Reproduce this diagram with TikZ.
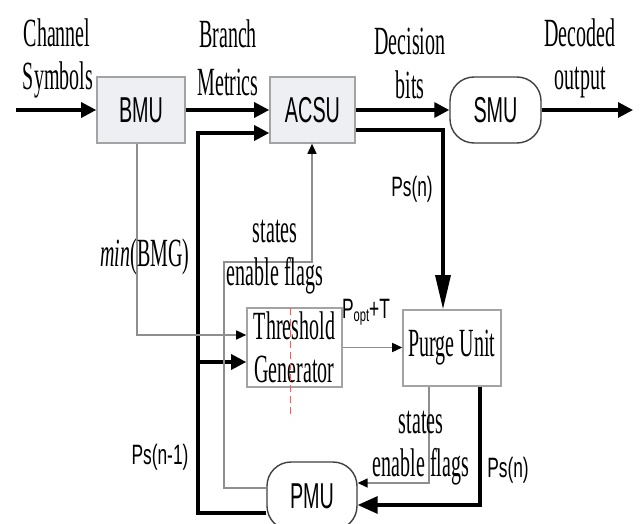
\documentclass[tikz,border=0pt]{standalone}
\usepackage{fontspec}
\usetikzlibrary{arrows.meta,calc}
\newfontfamily\labserif[FakeStretch=0.5]{Liberation Serif}
\newfontfamily\labsans[FakeStretch=0.55]{Liberation Sans}
\newfontfamily\labsansw[FakeStretch=0.62]{Liberation Sans}
\definecolor{boxfill}{HTML}{EDEFF3}
\definecolor{boxline}{HTML}{A3A3A3}
\definecolor{thinline}{HTML}{8E8E8E}
\definecolor{reddash}{HTML}{C87070}
\begin{document}
\begin{tikzpicture}[x=1pt,y=-1pt,
  sertxt/.style={font=\labserif\fontsize{40}{43}\selectfont, inner sep=0pt, anchor=base},
  pslab/.style={font=\labsansw\fontsize{28}{28}\selectfont, inner sep=0pt},
  unitbox/.style={draw=boxline, line width=1.6pt, fill=boxfill, inner sep=0pt,
    font=\labsans\fontsize{36}{36}\selectfont},
  plainbox/.style={draw=boxline, line width=1.6pt, fill=white, inner sep=0pt, align=center,
    font=\labserif\fontsize{40}{43}\selectfont},
  roundbox/.style={draw=black!75, line width=1.4pt, fill=white, rounded corners=24pt, inner sep=0pt,
    font=\labsans\fontsize{36}{36}\selectfont},
  thk/.style={line width=3.2pt, -{Triangle[length=15pt,width=15pt]}},
  thn/.style={draw=thinline, line width=1.5pt, -{Triangle[length=10pt,width=9pt,color=black]}}
]
\useasboundingbox (0,0) rectangle (640,524);
\fill[white] (0,0) rectangle (640,524);

% boxes
\node[unitbox, minimum width=88pt, minimum height=66pt] (bmu) at (141,110) {BMU};
\node[unitbox, minimum width=85pt, minimum height=66pt] (acsu) at (312.5,110) {ACSU};
\node[roundbox, minimum width=91pt, minimum height=66pt] (smu) at (495.5,110) {SMU};
\node[roundbox, minimum width=90pt, minimum height=68pt] (pmu) at (312,496) {PMU};
\node[plainbox, minimum width=95pt, minimum height=79pt] (thr) at (294.5,347.5) {Threshold\\Generator};
\node[plainbox, minimum width=98pt, minimum height=76pt] (purge) at (452,348) {Purge Unit};

% coordinates
\coordinate (in) at (16,110);
\coordinate (out) at (633,110);
\coordinate (psa) at (443,130);
\coordinate (fbtop) at (198,133);
\coordinate (fbbot) at (198,513);
\coordinate (br) at (198,362);
\coordinate (mb) at (137,335);
\coordinate (s1) at (224,488);
\coordinate (s2) at (224,262);
\coordinate (s3) at (312,262);
\coordinate (p1) at (429,483);
\coordinate (p2) at (480,505);
\coordinate (r1) at (290,308);
\coordinate (r2) at (290,418);

% main chain
\draw[thk] (in) -- (bmu.west);
\draw[thk] (bmu.east) -- (acsu.west);
\draw[thk] (acsu.east) -- (smu.west);
\draw[thk] (smu.east) -- (out);

% Ps(n) to purge
\draw[line width=3.2pt, -{Triangle[length=34pt,width=15pt]}] (acsu.east |- psa) -- (psa) -- (purge.north -| psa);

% feedback Ps(n-1)
\draw[thk] (pmu.west |- fbbot) -- (fbbot) -- (fbtop) -- (acsu.west |- fbtop);
\draw[thk] (br) -- (thr.west |- br);

% min(BMG)
\draw[thn] (bmu.south -| mb) -- (mb) -- (thr.west |- mb);

% states enable flags to ACSU
\draw[thn] (pmu.west |- s1) -- (s1) -- (s2) -- (s3) -- (acsu.south -| s3);

% threshold to purge
\draw[thn] (thr.east) -- (purge.west |- thr.east);

% purge to PMU
\draw[thn] (purge.south -| p1) -- (p1) -- (pmu.east |- p1);
\draw[line width=3.2pt, -{Triangle[length=20pt,width=17pt]}] (purge.south -| p2) -- (p2) -- (pmu.east |- p2);

% red dashed mark
\draw[reddash, line width=0.9pt, dash pattern=on 7pt off 4pt] (r1) -- (r2);

% labels
\node[sertxt] (l1) at (57,47) {Channel};
\node[sertxt] (l2) at (58,90) {Symbols};
\node[sertxt] (l3) at (228,48) {Branch};
\node[sertxt] (l4) at (228,96) {Metrics};
\node[sertxt] (l5) at (410,55) {Decision};
\node[sertxt] (l6) at (410,99) {bits};
\node[sertxt] (l7) at (580,47) {Decoded};
\node[sertxt] (l8) at (580,90) {output};
\node[sertxt] (l9) at (145,266) {\itshape min\upshape(BMG)};
\node[sertxt] (l10) at (275,242) {states};
\node[sertxt] (l11) at (275,285) {enable flags};
\node[sertxt] (l12) at (421,433) {states};
\node[sertxt] (l13) at (421,476) {enable flags};
\node[pslab] (l14) at (412,189) {Ps(n)};
\node[pslab] (l15) at (508,470) {Ps(n)};
\node[pslab] (l16) at (160,457) {Ps(n-1)};
\node[pslab, anchor=base] (l17) at (366,318) {P\raisebox{-0.25ex}{\fontsize{18}{18}\selectfont opt}+T};
\end{tikzpicture}
\end{document}
